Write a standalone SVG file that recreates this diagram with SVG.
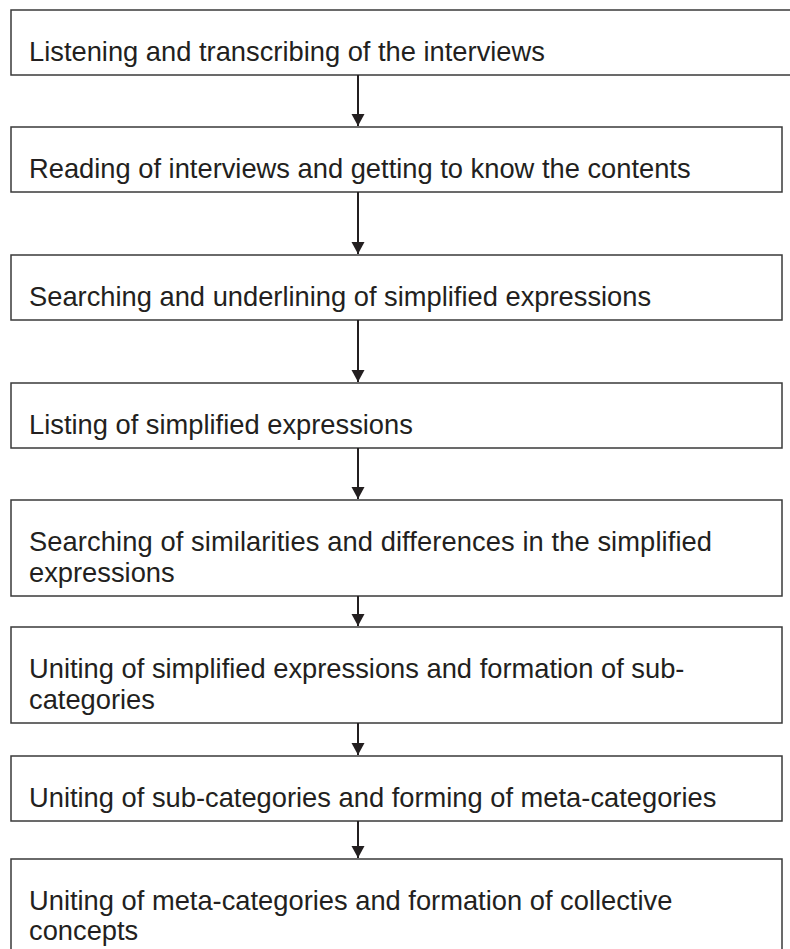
<svg xmlns="http://www.w3.org/2000/svg" width="790" height="949" viewBox="0 0 790 949">
  <style>
    .box { fill: #ffffff; stroke: #3a3a3a; stroke-width: 1.5; }
    .label { font-family: "Liberation Sans", Arial, Helvetica, sans-serif; font-size: 27.3px; fill: #231f20; }
    .link { stroke: #231f20; stroke-width: 2; fill: none; }
  </style>
  <defs>
    <marker id="head" markerUnits="userSpaceOnUse" markerWidth="14" markerHeight="14" refX="12" refY="6.5" orient="auto">
      <path d="M0,0 L12,6.5 L0,13 Z" fill="#231f20"/>
    </marker>
  </defs>
  <rect width="790" height="949" fill="#ffffff"/>

  <g id="step1">
    <rect class="box" x="11" y="10" width="800" height="65"/>
    <text class="label" x="29" y="61">Listening and transcribing of the interviews</text>
  </g>
  <g id="step2">
    <rect class="box" x="11" y="127" width="771" height="65"/>
    <text class="label" x="29" y="178">Reading of interviews and getting to know the contents</text>
  </g>
  <g id="step3">
    <rect class="box" x="11" y="255" width="771" height="65"/>
    <text class="label" x="29" y="306">Searching and underlining of simplified expressions</text>
  </g>
  <g id="step4">
    <rect class="box" x="11" y="383" width="771" height="65"/>
    <text class="label" x="29" y="434">Listing of simplified expressions</text>
  </g>
  <g id="step5">
    <rect class="box" x="11" y="500" width="771" height="96"/>
    <text class="label" x="29" y="551" textLength="683" lengthAdjust="spacing">Searching of similarities and differences in the simplified</text>
    <text class="label" x="29" y="582">expressions</text>
  </g>
  <g id="step6">
    <rect class="box" x="11" y="627" width="771" height="96"/>
    <text class="label" x="29" y="678">Uniting of simplified expressions and formation of sub-</text>
    <text class="label" x="29" y="709">categories</text>
  </g>
  <g id="step7">
    <rect class="box" x="11" y="756" width="771" height="65"/>
    <text class="label" x="29" y="807">Uniting of sub-categories and forming of meta-categories</text>
  </g>
  <g id="step8">
    <rect class="box" x="11" y="859" width="771" height="110"/>
    <text class="label" x="29" y="910">Uniting of meta-categories and formation of collective</text>
    <text class="label" x="29" y="940">concepts</text>
  </g>

  <g id="connectors">
    <line class="link" x1="358" y1="75" x2="358" y2="126" marker-end="url(#head)"/>
    <line class="link" x1="358" y1="192" x2="358" y2="254" marker-end="url(#head)"/>
    <line class="link" x1="358" y1="320" x2="358" y2="382" marker-end="url(#head)"/>
    <line class="link" x1="358" y1="448" x2="358" y2="499" marker-end="url(#head)"/>
    <line class="link" x1="358" y1="596" x2="358" y2="626" marker-end="url(#head)"/>
    <line class="link" x1="358" y1="723" x2="358" y2="755" marker-end="url(#head)"/>
    <line class="link" x1="358" y1="821" x2="358" y2="858" marker-end="url(#head)"/>
  </g>
</svg>
